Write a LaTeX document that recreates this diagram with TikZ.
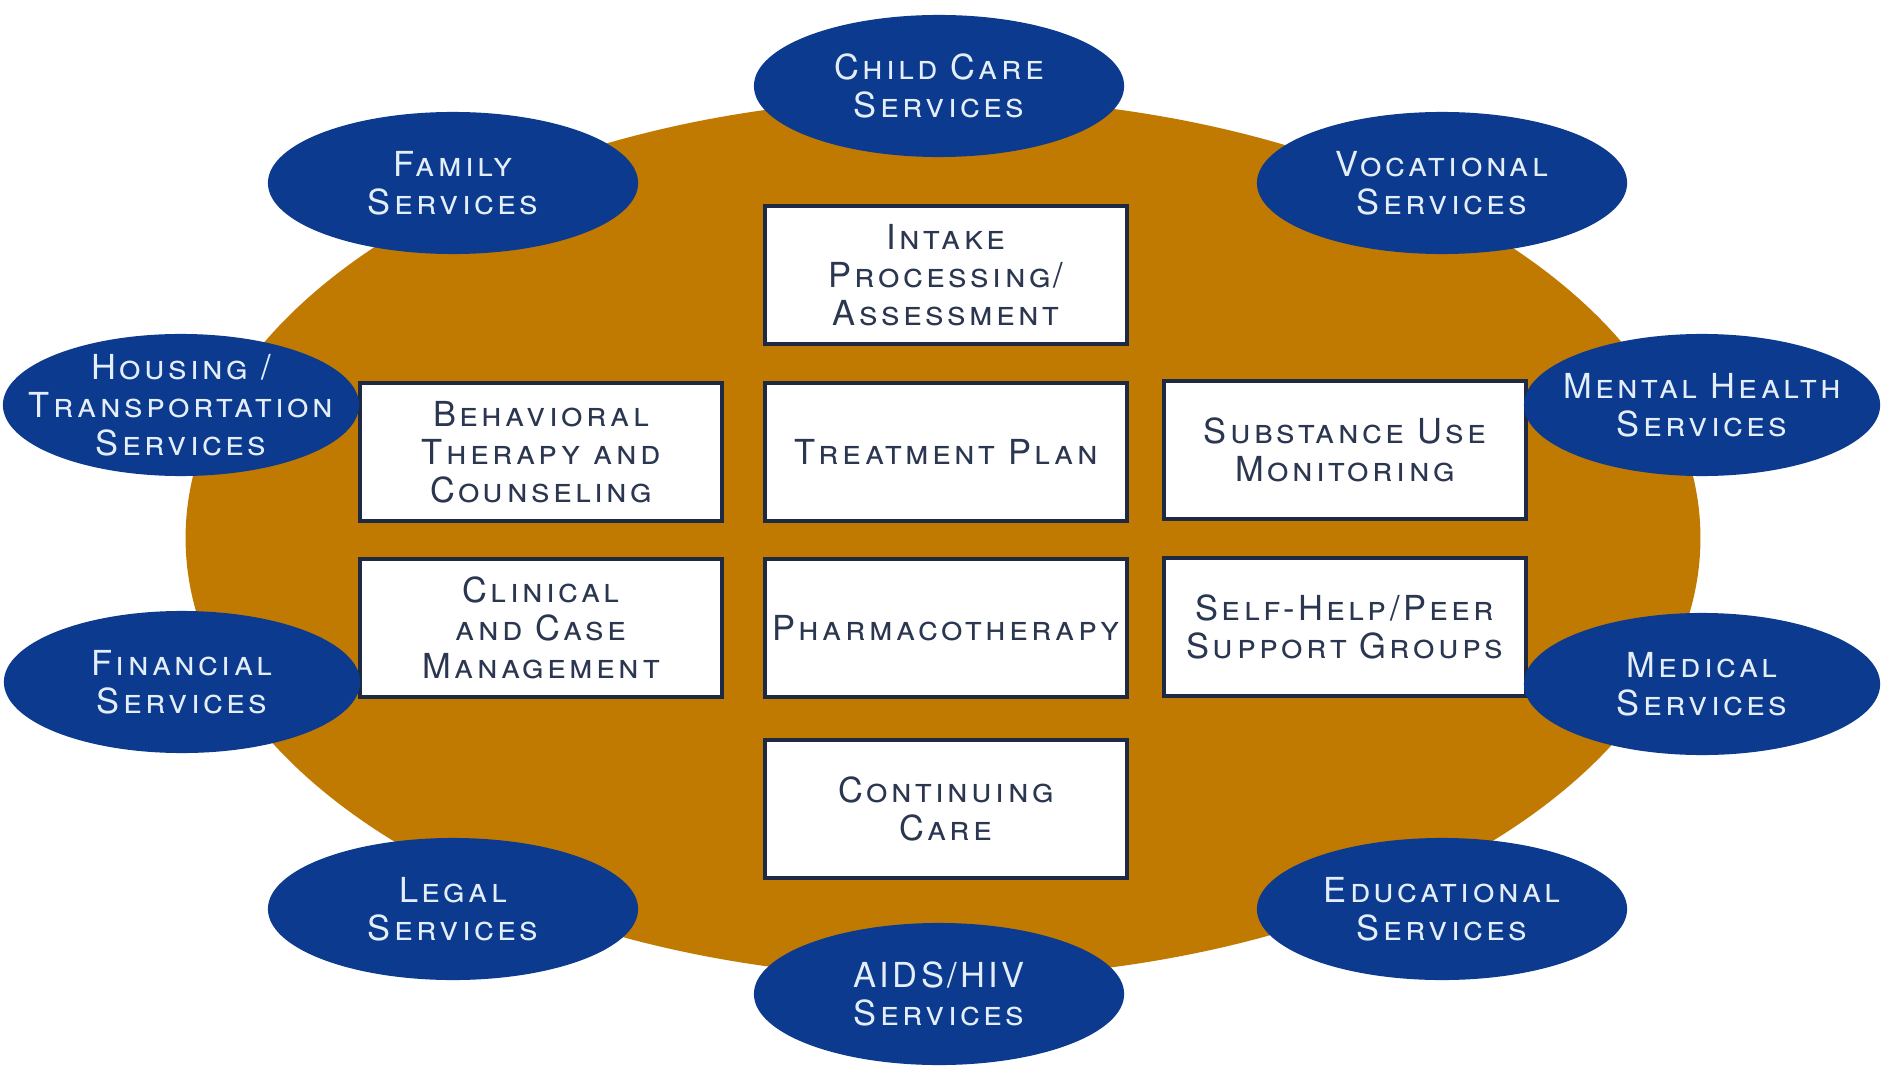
\documentclass[tikz,border=0pt]{standalone}
\usepackage{fontspec}
\setmainfont{TeX Gyre Heros}[LetterSpace=10]
\usetikzlibrary{shapes.geometric}

\definecolor{hubbrown}{HTML}{C07A02}
\definecolor{ovalblue}{HTML}{0B3A8E}
\definecolor{ovaltext}{HTML}{E4EEF9}
\definecolor{boxline}{HTML}{1E2A44}
\definecolor{boxtext}{HTML}{2B3650}

\tikzset{
  service/.style={ellipse, fill=ovalblue, text=ovaltext,
    inner xsep=-0.6cm, inner ysep=-0.2cm,
    minimum width=3.7cm, minimum height=1.42cm, align=center,
    font=\fontsize{9.8}{10.8}\selectfont\scshape},
  sideservice/.style={service, minimum width=3.56cm},
  module/.style={rectangle, draw=boxline, line width=1.2pt, fill=white,
    text=boxtext, inner sep=0pt, minimum width=3.62cm, minimum height=1.38cm,
    align=center, font=\fontsize{9.8}{10.8}\selectfont\scshape}
}

\begin{document}
\begin{tikzpicture}[x=0.01cm, y=-0.01cm]
  \useasboundingbox[fill=white] (0,0) rectangle (1883,1067);

  % background oval
  \node[ellipse, fill=hubbrown, minimum width=15.14cm, minimum height=8.8cm]
    (hub) at (943,538) {};

  % treatment modules
  \node[module] (intake)    at (946,275) {Intake\\Processing/\\Assessment};
  \node[module] (plan)      at (946,452) {Treatment Plan};
  \node[module] (pharma)    at (946,628) {Pharmacotherapy};
  \node[module] (continuing) at (946,809) {Continuing\\Care};
  \node[module] (behavioral) at (541,452) {Behavioral\\Therapy and\\Counseling};
  \node[module] (clinical)  at (541,628) {Clinical\\and Case\\Management};
  \node[module] (substance) at (1345,450) {Substance Use\\Monitoring};
  \node[module] (selfhelp)  at (1345,627) {Self-Help/Peer\\Support Groups};

  % wraparound services
  \node[service] (childcare)   at (939,86)   {Child Care\\Services};
  \node[service] (family)      at (453,183)  {Family\\Services};
  \node[service] (vocational)  at (1442,183) {Vocational\\Services};
  \node[sideservice] (housing) at (181,405)  {Housing /\\Transportation\\Services};
  \node[sideservice] (mental)  at (1702,405) {Mental Health\\Services};
  \node[sideservice] (financial) at (182,682) {Financial\\Services};
  \node[sideservice] (medical) at (1702,684) {Medical\\Services};
  \node[service] (legal)       at (453,909)  {Legal\\Services};
  \node[service] (educational) at (1442,909) {Educational\\Services};
  \node[service] (aids)        at (939,994)  {AIDS/HIV\\Services};
\end{tikzpicture}
\end{document}
